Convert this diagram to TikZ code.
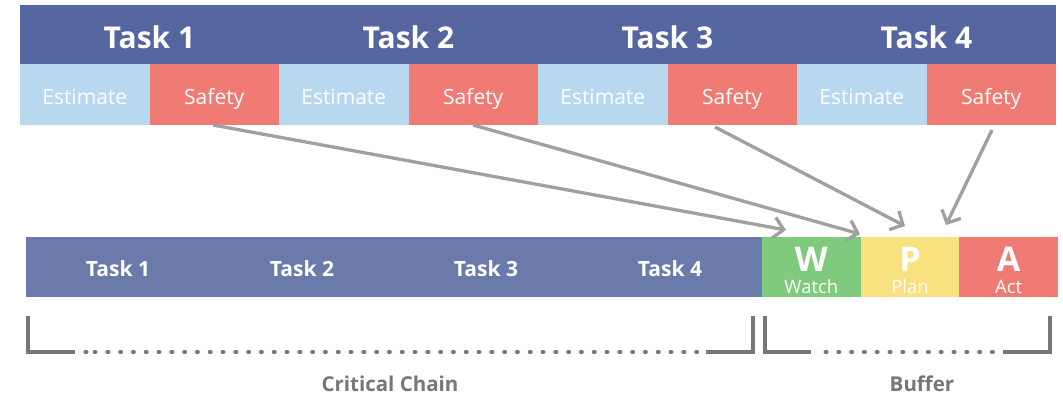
\documentclass[tikz,border=0pt]{standalone}
\usepackage{fontspec}
\setmainfont{Open Sans}
\usetikzlibrary{arrows.meta,calc}
\definecolor{taskblue}{HTML}{5565A0}
\definecolor{chainblue}{HTML}{6A7AAB}
\definecolor{estblue}{HTML}{B8D8F0}
\definecolor{safered}{HTML}{F07A74}
\definecolor{watchgreen}{HTML}{7ECB7E}
\definecolor{planyellow}{HTML}{F8E17E}
\definecolor{actred}{HTML}{F07A74}
\definecolor{linegray}{HTML}{A0A0A0}
\definecolor{textgray}{HTML}{777777}
\tikzset{
  block/.style={draw=none, inner sep=0pt, outer sep=0pt, anchor=north west},
  tasktop/.style={block, fill=taskblue, minimum width=259pt, minimum height=59pt},
  estbox/.style={block, fill=estblue, minimum width=129.5pt, minimum height=61pt},
  safebox/.style={estbox, fill=safered},
  chaintask/.style={block, fill=chainblue, minimum width=184pt, minimum height=60pt},
  bufbox/.style={block, minimum width=98.7pt, minimum height=60pt},
  label/.style={anchor=base, inner sep=0pt, text=white},
  toplabel/.style={label, font=\bfseries\fontsize{30}{32}\selectfont},
  partlabel/.style={label, font=\fontsize{21}{23}\selectfont},
  chainlabel/.style={label, font=\bfseries\fontsize{21}{23}\selectfont},
  bigletter/.style={label, font=\bfseries\fontsize{34}{36}\selectfont},
  smallword/.style={label, font=\fontsize{18.5}{20}\selectfont},
  flow/.style={draw=linegray, line width=3.3pt,
    -{Straight Barb[length=10pt, width=21pt, line width=3.3pt]}},
  bracket/.style={draw=textgray, line width=4pt},
  dots/.style={draw=textgray, line width=4pt, line cap=round, dash pattern=on 1pt off 11.8pt},
  caption/.style={anchor=base, inner sep=0pt, text=textgray, font=\bfseries\fontsize{20.5}{22}\selectfont}
}
\begin{document}
\begin{tikzpicture}[x=1pt,y=-1pt]
  \useasboundingbox[fill=white] (0,0) rectangle (1063,397);

  % top row: tasks with estimate and safety parts
  \foreach \i in {1,...,4} {
    \pgfmathsetmacro{\xx}{20+259*(\i-1)}
    \node[tasktop] (t\i) at (\xx,5) {};
    \node[toplabel] (tl\i) at (\xx+129.5,48) {Task \i};
    \node[estbox] (e\i) at (\xx,64) {};
    \node[safebox] (s\i) at (\xx+129.5,64) {};
    \node[partlabel] (el\i) at (\xx+64.75,104) {Estimate};
    \node[partlabel] (sl\i) at (\xx+194.25,104) {Safety};
  }

  % critical chain bar
  \foreach \i in {1,...,4} {
    \node[chaintask] (c\i) at (26+184*\i-184,237) {};
    \node[chainlabel] (cl\i) at (26+184*\i-92,276) {Task \i};
  }
  \node[bufbox, fill=watchgreen] (w) at (762,237) {};
  \node[bufbox, fill=planyellow] (p) at (860.7,237) {};
  \node[bufbox, fill=actred] (a) at (959.3,237) {};
  \node[bigletter] (wl) at ($(w.north)+(0,34)$) {W};
  \node[bigletter] (pl) at ($(p.north)+(0,34)$) {P};
  \node[bigletter] (al) at ($(a.north)+(0,34)$) {A};
  \node[smallword] (ww) at ($(w.north)+(0,56)$) {Watch};
  \node[smallword] (pw) at ($(p.north)+(0,56)$) {Plan};
  \node[smallword] (aw) at ($(a.north)+(0,56)$) {Act};

  % safety moved into the buffer
  \coordinate (f1) at (213,125);
  \coordinate (f2) at (473,125);
  \coordinate (f3) at (715,127);
  \coordinate (f4) at (992,130);
  \coordinate (h1) at (786,230);
  \coordinate (h2) at (860,234);
  \coordinate (h3) at (905,226);
  \coordinate (h4) at (946,225);
  \draw[flow] (f1) -- (h1);
  \draw[flow] (f2) -- (h2);
  \draw[flow] (f3) -- (h3);
  \draw[flow] (f4) -- (h4);

  % brackets below the bar
  \coordinate (cc1) at (28,316);
  \coordinate (cc2) at (28,352);
  \coordinate (cc3) at (75,352);
  \coordinate (cc4) at (706,352);
  \coordinate (cc5) at (753,352);
  \coordinate (cc6) at (753,316);
  \draw[bracket] (cc1) -- (cc2) -- (cc3);
  \draw[bracket] (cc4) -- (cc5) -- (cc6);
  \draw[dots] (85.5,352) -- (87,352);
  \draw[dots] (94.5,352) -- (700,352);

  \coordinate (bb1) at (765,316);
  \coordinate (bb2) at (765,352);
  \coordinate (bb3) at (811,352);
  \coordinate (bb4) at (1003,352);
  \coordinate (bb5) at (1050,352);
  \coordinate (bb6) at (1050,316);
  \draw[bracket] (bb1) -- (bb2) -- (bb3);
  \draw[bracket] (bb4) -- (bb5) -- (bb6);
  \draw[dots] (825.5,352) -- (995,352);

  \node[caption] (cl) at (390,391) {Critical Chain};
  \node[caption] (bl) at (922,391) {Buffer};
\end{tikzpicture}
\end{document}
